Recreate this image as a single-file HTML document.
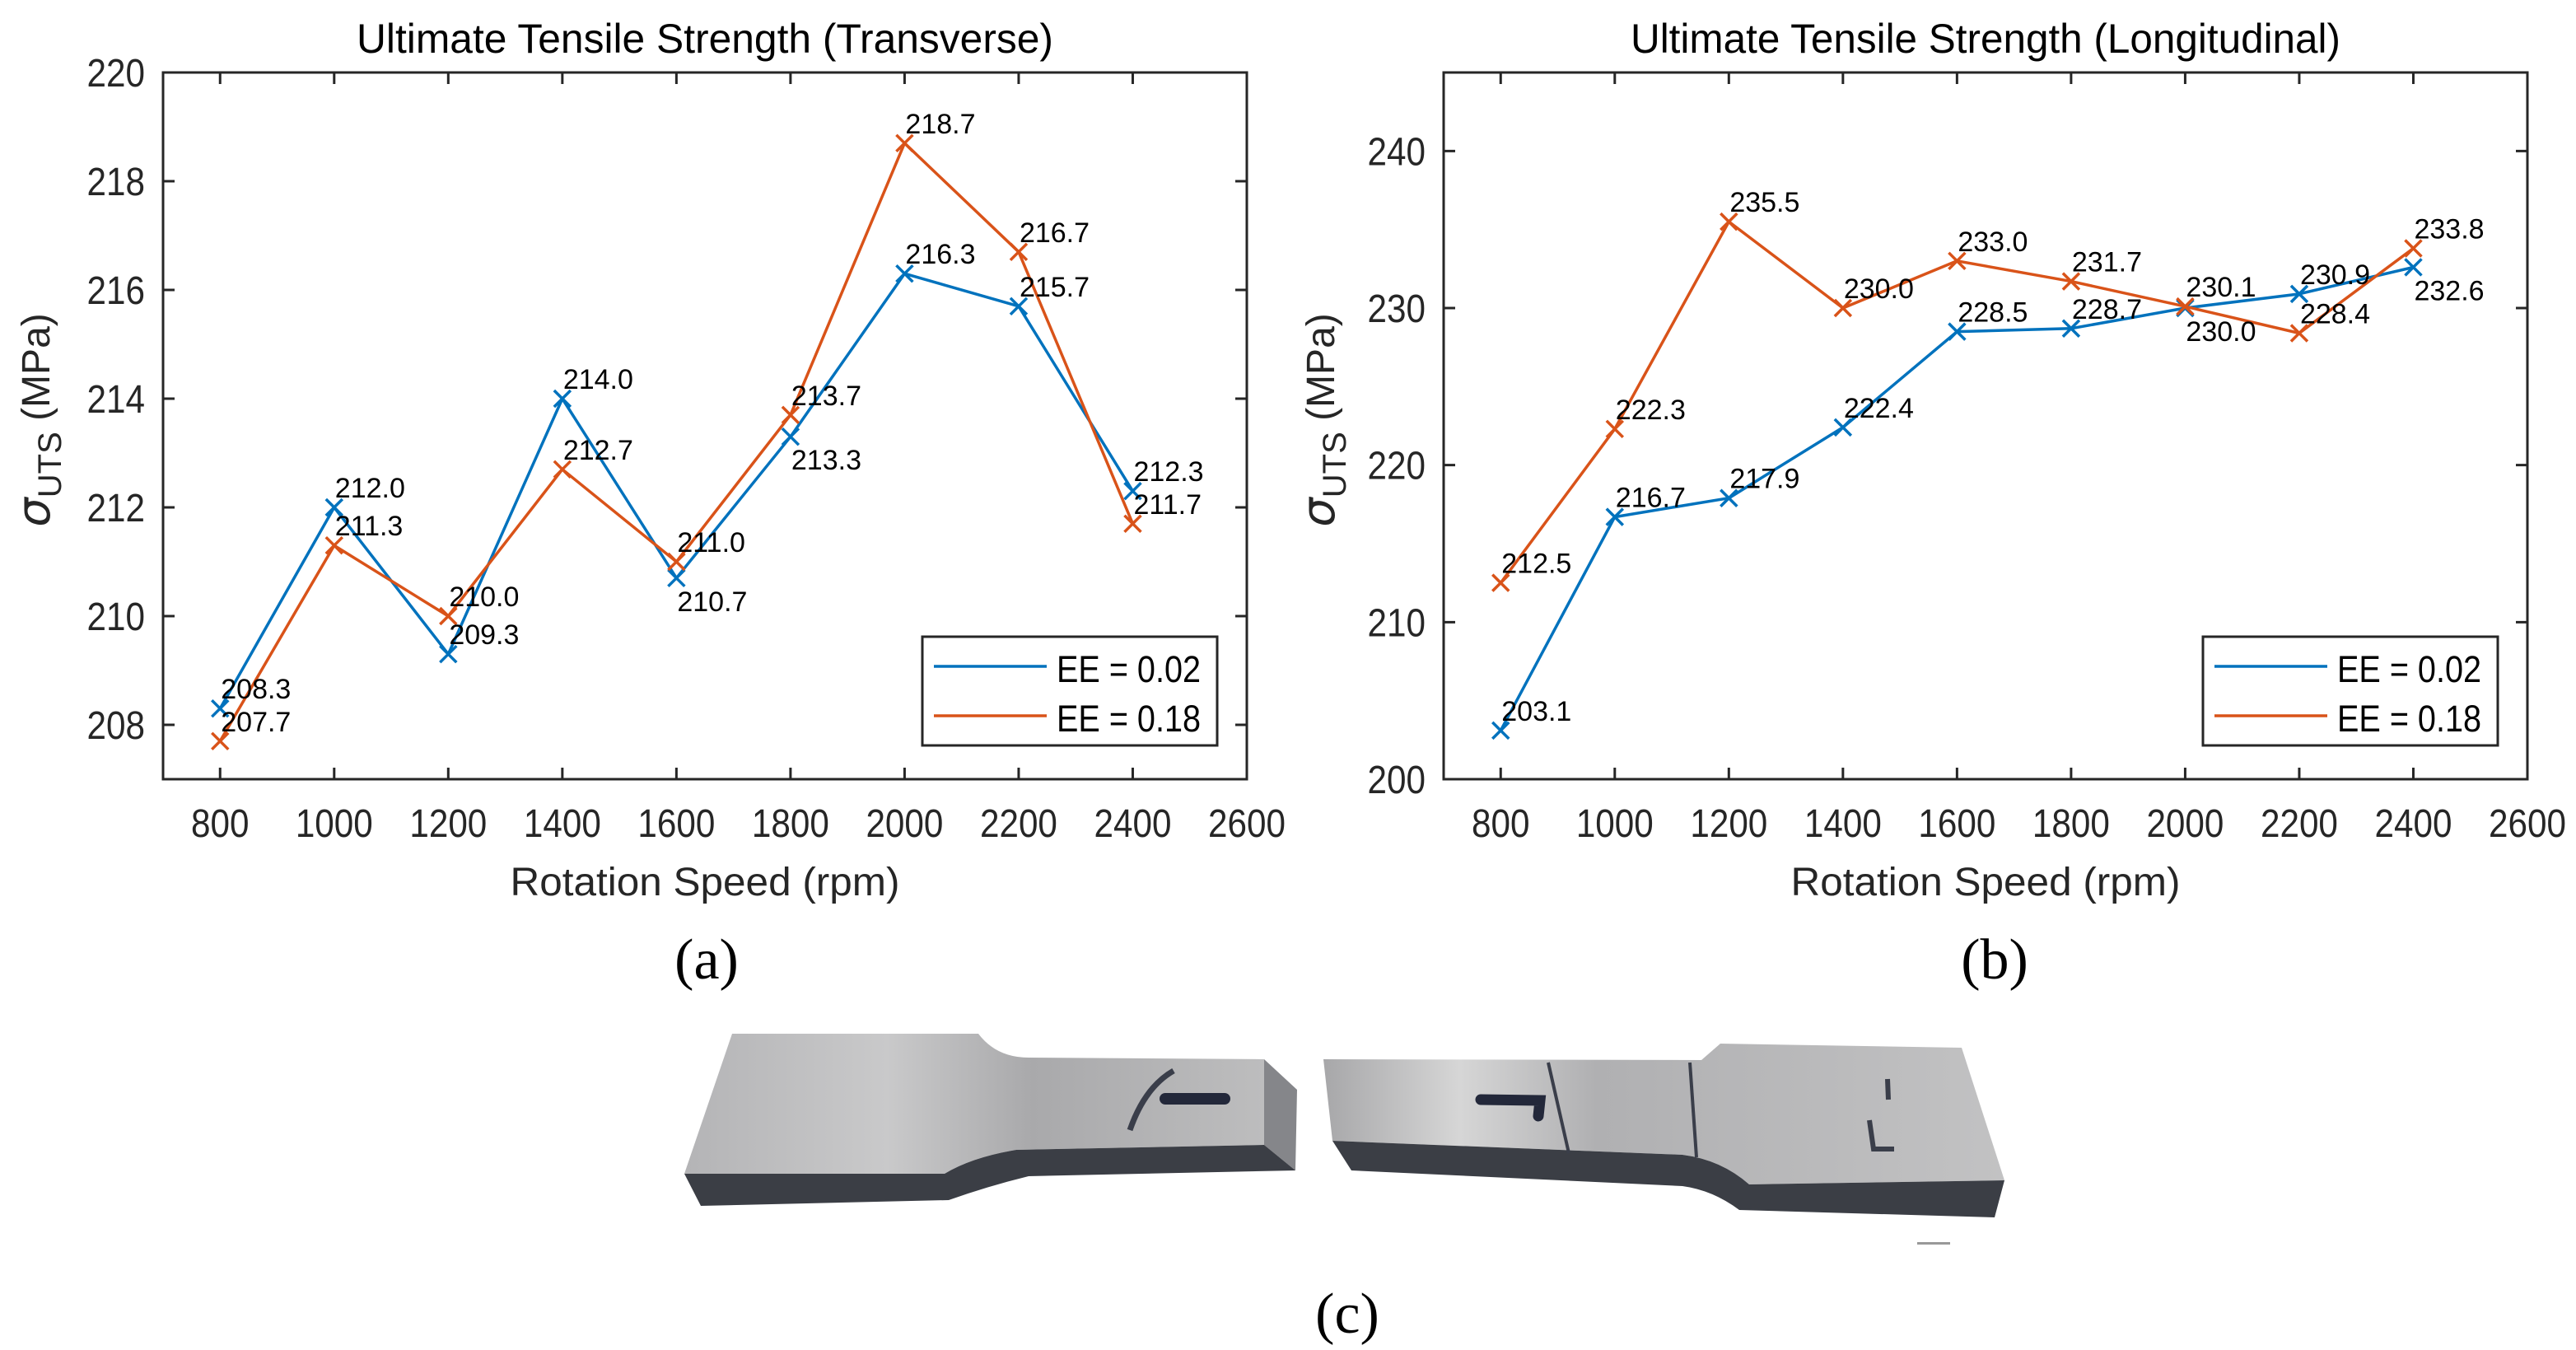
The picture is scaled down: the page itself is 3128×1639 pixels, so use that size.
<!DOCTYPE html>
<html><head><meta charset="utf-8">
<style>
html,body{margin:0;padding:0;background:#fff;}
svg{display:block;font-family:"Liberation Sans",sans-serif;}
</style></head>
<body>
<svg id="fig" xmlns="http://www.w3.org/2000/svg" width="3128" height="1639" viewBox="0 0 3128 1639">
<defs>
<linearGradient id="metal" x1="0" y1="0" x2="1" y2="0">
<stop offset="0" stop-color="#b4b4b6"/><stop offset="0.35" stop-color="#c9c9ca"/><stop offset="0.6" stop-color="#a9a9ab"/><stop offset="1" stop-color="#bdbdbe"/>
</linearGradient>
<linearGradient id="metal2" x1="0" y1="0" x2="1" y2="0">
<stop offset="0" stop-color="#a7a7a9"/><stop offset="0.2" stop-color="#d6d6d6"/><stop offset="0.4" stop-color="#b0b0b2"/><stop offset="1" stop-color="#c2c2c3"/>
</linearGradient>
</defs>
<g id="chartA"></g>
<g id="chartB"></g>
<text x="858" y="1188" font-family="Liberation Serif, serif" font-size="70" text-anchor="middle" fill="#000">(a)</text>
<text x="2422" y="1188" font-family="Liberation Serif, serif" font-size="70" text-anchor="middle" fill="#000">(b)</text>
<text x="1636" y="1618" font-family="Liberation Serif, serif" font-size="70" text-anchor="middle" fill="#000">(c)</text>
<g>
<path d="M889,1255 L1188,1255 Q1210,1284 1249,1284 L1535,1286 L1535,1390 L1234,1396 Q1180,1405 1147,1425 L831,1425 Z" fill="url(#metal)"/>
<path d="M1535,1286 L1575,1323 L1573,1421 L1535,1390 Z" fill="#85868a"/>
<path d="M831,1425 L1147,1425 Q1180,1405 1234,1396 L1535,1390 L1573,1421 L1249,1428 Q1200,1440 1152,1457 L851,1464 Z" fill="#3b3e45"/>
<path d="M1372,1372 Q1390,1320 1425,1300" stroke="#3a3e4a" stroke-width="7" fill="none"/>
<rect x="1408" y="1327" width="86" height="14" rx="7" fill="#23283a"/>
<path d="M1607,1286 L2066,1287 L2089,1267 L2382,1272 L2434,1433 L2124,1438 Q2090,1408 2043,1402 L1618,1385 Z" fill="url(#metal2)"/>
<path d="M1618,1385 L2043,1402 Q2090,1408 2124,1438 L2434,1433 L2422,1478 L2112,1469 Q2080,1445 2043,1440 L1641,1421 Z" fill="#3b3e45"/>
<path d="M1880,1290 L1905,1400" stroke="#3a3e4a" stroke-width="4" fill="none"/>
<path d="M2052,1290 L2060,1405" stroke="#3a3e4a" stroke-width="4" fill="none"/>
<path d="M1798,1335 L1870,1336 L1868,1355" stroke="#23283a" stroke-width="13" fill="none" stroke-linecap="round"/>
<path d="M2270,1360 L2275,1395 L2300,1395 M2292,1310 L2293,1335" stroke="#3a3e4a" stroke-width="6" fill="none"/>
<rect x="2328" y="1508" width="40" height="3" fill="#999"/>
</g>
</svg>
<script>
// ---------- Data ----------
const rpm = [800, 1000, 1200, 1400, 1600, 1800, 2000, 2200, 2400];
const transEE002 = [208.3, 212.0, 209.3, 214.0, 210.7, 213.3, 216.3, 215.7, 212.3];
const transEE018 = [207.7, 211.3, 210.0, 212.7, 211.0, 213.7, 218.7, 216.7, 211.7];
const longEE002 = [203.1, 216.7, 217.9, 222.4, 228.5, 228.7, 230.0, 230.9, 232.6];
const longEE018 = [212.5, 222.3, 235.5, 230.0, 233.0, 231.7, 230.1, 228.4, 233.8];
const xTicks = [800, 1000, 1200, 1400, 1600, 1800, 2000, 2200, 2400, 2600];
const transYTicks = [208, 210, 212, 214, 216, 218, 220];
const longYTicks = [200, 210, 220, 230, 240];
const seriesNames = ["EE = 0.02", "EE = 0.18"];
// which labels print below the point (1 = below)
const transBelow002 = [0,0,0,0,1,1,0,0,0];
const transBelow018 = [0,0,0,0,0,0,0,0,0];
const longBelow002 = [0,0,0,0,0,0,1,0,1];
const longBelow018 = [0,0,0,0,0,0,0,0,0];

const NS = "http://www.w3.org/2000/svg";
const BLUE = "#0072BD", ORANGE = "#D95319", AX = "#262626";

function mk(tag, attrs, parent){
  const e = document.createElementNS(NS, tag);
  for (const k in attrs) e.setAttribute(k, attrs[k]);
  parent.appendChild(e); return e;
}

function drawChart(g, cfg){
  const {left, right, top, bottom, xmin, xmax, ymin, ymax} = cfg;
  const xs = v => left + (v - xmin) / (xmax - xmin) * (right - left);
  const ys = v => bottom - (v - ymin) / (ymax - ymin) * (bottom - top);
  const cx = (left + right) / 2;

  const title = mk("text", {x: cx, y: 64, "font-size": 50, "text-anchor": "middle", fill: "#000", textLength: cfg.titleLen, lengthAdjust: "spacingAndGlyphs"}, g);
  title.textContent = cfg.title;
  
  

  const series = [[cfg.s1, BLUE, cfg.b1, 'series-ee-002'], [cfg.s2, ORANGE, cfg.b2, 'series-ee-018']];
  series.forEach(([vals, col, below, nm]) => {
    const sg = mk("g", {}, g);
    
    
    const pts = vals.map((v, i) => xs(rpm[i]) + "," + ys(v)).join(" ");
    const pl = mk("polyline", {points: pts, fill: "none", stroke: col, "stroke-width": 3.5, "stroke-linejoin": "round"}, sg);
    
    
    vals.forEach((v, i) => {
      const px = xs(rpm[i]), py = ys(v), s = 10;
      const m = mk("path", {d: `M${px-s},${py-s}L${px+s},${py+s}M${px-s},${py+s}L${px+s},${py-s}`, stroke: col, "stroke-width": 3.5, fill: "none"}, sg);
      
      
    });
  });
  series.forEach(([vals, col, below]) => {
    vals.forEach((v, i) => {
      const px = xs(rpm[i]), py = ys(v);
      const t = mk("text", {x: px + 1, y: below[i] ? py + 40 : py - 12, "font-size": 34, fill: "#000"}, g);
      t.textContent = v.toFixed(1);
      
      
    });
  });

  const box = mk("rect", {x: left, y: top, width: right - left, height: bottom - top, fill: "none", stroke: AX, "stroke-width": 3}, g);
  
  
  const tl = 14;
  xTicks.forEach(t => {
    const x = xs(t);
    const tk = mk("path", {d: `M${x},${bottom}V${bottom-tl}M${x},${top}V${top+tl}`, stroke: AX, "stroke-width": 3}, g);
    
    
    const lb = mk("text", {x: 0, y: 0, "font-size": 48, "text-anchor": "middle", fill: AX, transform: `translate(${x},${bottom+70}) scale(0.88,1)`}, g);
    lb.textContent = t;
    
    
  });
  cfg.yTicks.forEach(t => {
    const y = ys(t);
    const tk = mk("path", {d: `M${left},${y}H${left+tl}M${right},${y}H${right-tl}`, stroke: AX, "stroke-width": 3}, g);
    
    
    const lb = mk("text", {x: 0, y: 0, "font-size": 48, "text-anchor": "end", fill: AX, transform: `translate(${left-22},${y+17}) scale(0.88,1)`}, g);
    lb.textContent = t;
    
    
  });

  const xl = mk("text", {x: cx, y: 1087, "font-size": 48, "text-anchor": "middle", fill: AX, textLength: 473, lengthAdjust: "spacingAndGlyphs"}, g);
  xl.textContent = "Rotation Speed (rpm)";
  
  

  const yl = mk("text", {x: 0, y: 0, "font-size": 48, "text-anchor": "middle", fill: AX, transform: `translate(${cfg.ylx},510) rotate(-90)`}, g);
  
  
  const t1 = mk("tspan", {"font-style": "italic", "font-family": "DejaVu Sans, sans-serif", "font-size": 56}, yl); t1.textContent = "σ";
  const t2 = mk("tspan", {"font-size": 40, dy: 14}, yl); t2.textContent = "UTS";
  const t3 = mk("tspan", {dy: -14}, yl); t3.textContent = "\u00a0(MPa)";

  const lg = mk("g", {}, g);
  
  
  const lx = right - 394, lw = 358;
  mk("rect", {x: lx, y: 773, width: lw, height: 132, fill: "#fff", stroke: AX, "stroke-width": 3}, lg);
  [BLUE, ORANGE].forEach((col, i) => {
    const y = 809 + i * 60;
    const ln = mk("line", {x1: lx + 14, x2: lx + 151, y1: y, y2: y, stroke: col, "stroke-width": 3.5}, lg);
    
    
    const tx = mk("text", {x: lx + 163, y: y + 19, "font-size": 45, fill: "#000", textLength: 175, lengthAdjust: "spacingAndGlyphs"}, lg);
    tx.textContent = seriesNames[i];
    
    
  });
}

drawChart(document.getElementById("chartA"), {
  left: 198, right: 1514, top: 88, bottom: 946, xmin: 700, xmax: 2600, ymin: 207, ymax: 220,
  yTicks: transYTicks, s1: transEE002, s2: transEE018, b1: transBelow002, b2: transBelow018,
  title: "Ultimate Tensile Strength (Transverse)", titleLen: 846, ylx: 60
});
drawChart(document.getElementById("chartB"), {
  left: 1753, right: 3069, top: 88, bottom: 946, xmin: 700, xmax: 2600, ymin: 200, ymax: 245,
  yTicks: longYTicks, s1: longEE002, s2: longEE018, b1: longBelow002, b2: longBelow018,
  title: "Ultimate Tensile Strength (Longitudinal)", titleLen: 862, ylx: 1620
});
</script>
</body></html>
